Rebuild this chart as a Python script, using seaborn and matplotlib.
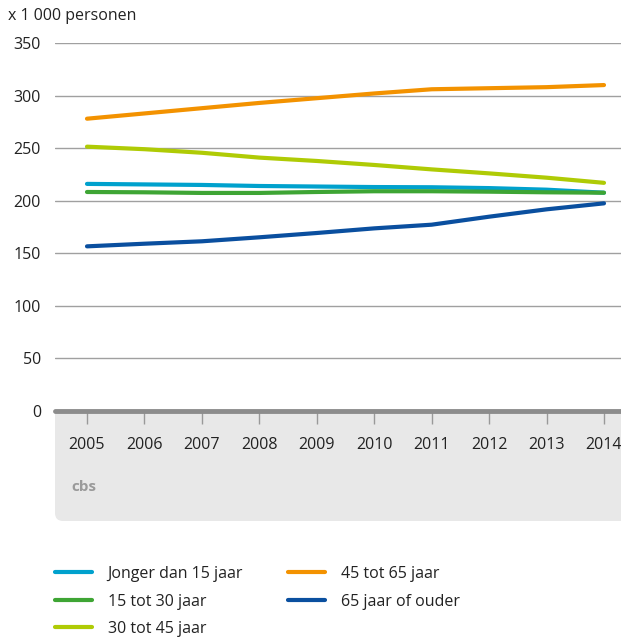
import numpy as np
import pandas as pd
import seaborn as sns
import matplotlib.pyplot as plt
from matplotlib.patches import FancyBboxPatch, Rectangle
from matplotlib.lines import Line2D

# Data (x 1 000 personen)
years = [2005, 2006, 2007, 2008, 2009, 2010, 2011, 2012, 2013, 2014]
jonger_15 = [216, 215.5, 215, 214, 213.5, 213, 212.8, 212, 210.5, 207.6]
tot_30 = [208.3, 208, 207.4, 207.4, 208.3, 209, 209, 208.6, 208, 207.6]
tot_45 = [251.4, 249, 245.6, 241, 237.8, 234, 229.8, 226, 221.9, 217]
tot_65 = [278, 283, 288, 293, 297.5, 302, 306, 307, 308, 310]
ouder_65 = [156.6, 159.1, 161.4, 165.2, 169.3, 173.7, 177.2, 184.8, 191.8, 197.5]

series_names = ['Jonger dan 15 jaar', '15 tot 30 jaar', '30 tot 45 jaar',
                '45 tot 65 jaar', '65 jaar of ouder']
series_values = [jonger_15, tot_30, tot_45, tot_65, ouder_65]
colors = ['#00a1cd', '#3ea534', '#afcb05', '#f39200', '#0a4f9f']
y_ticks = [0, 50, 100, 150, 200, 250, 300, 350]

# long format for seaborn
rows = []
for name, vals in zip(series_names, series_values):
    for yr, v in zip(years, vals):
        rows.append({'Jaar': yr, 'Waarde': v, 'Groep': name})
df = pd.DataFrame(rows)

sns.set_style('white')
plt.rcParams['font.family'] = ['Open Sans', 'DejaVu Sans']
fs = 11.5

W, H = 621, 638
fig = plt.figure(figsize=(W / 100, H / 100), dpi=100)

# background axes for the grey box under the x axis
bg = fig.add_axes([0, 0, 1, 1])
bg.set_xlim(0, W)
bg.set_ylim(H, 0)
bg.axis('off')
bg.add_patch(FancyBboxPatch((55, 411), 600, 110, boxstyle='round,pad=0,rounding_size=8',
                            facecolor='#e8e8e8', edgecolor='none'))
bg.add_patch(Rectangle((55, 411), 40, 40, facecolor='#e8e8e8', edgecolor='none'))

# cbs logo stand-in
bg.text(84, 487, 'cbs', fontsize=11, color='#9a9a9a', ha='center', va='center',
        fontweight='bold')

# plot axes: left 55, right 621, top 43, bottom 411
ax = fig.add_axes([55 / W, 1 - 411 / H, (621 - 55) / W, (411 - 43) / H])
ax.patch.set_alpha(0)
ax.set_zorder(2)

# grid lines
for t in y_ticks[1:]:
    ax.axhline(t, color='#a0a0a0', lw=1, zorder=1)
ax.axhline(0, color='#8c8c8c', lw=3.5, zorder=3, clip_on=False)

sns.lineplot(data=df, x='Jaar', y='Waarde', hue='Groep', hue_order=series_names,
             palette=colors, lw=3, ax=ax, legend=False, zorder=2)

ax.set_xlim(2004.443, 2014.296)
ax.set_ylim(0, 350)
ax.set_xticks(years)
ax.set_xticklabels([str(y) for y in years])
ax.set_yticks(y_ticks)
# seaborn's white style switches bottom ticks off, so turn them back on
ax.tick_params(axis='x', bottom=True, direction='out', length=9, width=1,
               color='#999999', pad=10, labelsize=fs, labelcolor='#222222')
ax.tick_params(axis='y', left=False, length=0, pad=10, labelsize=fs,
               labelcolor='#222222')
ax.set_xlabel('')
ax.set_ylabel('')
for s in ax.spines.values():
    s.set_visible(False)

fig.text(8 / W, 1 - 16 / H, 'x 1 000 personen', fontsize=fs, color='#222222',
         va='center', ha='left')

# legend
handles = [Line2D([0], [0], color=c, lw=3) for c in colors]
leg = fig.legend(handles, series_names, loc='upper left',
                 bbox_to_anchor=(55 / W, 1 - 566 / H), ncol=2, frameon=False,
                 fontsize=fs, handlelength=2.3, handletextpad=1.0,
                 columnspacing=2.8, labelspacing=0.72, borderpad=0,
                 borderaxespad=0)
for t in leg.get_texts():
    t.set_color('#222222')

fig.savefig('out.png', dpi=100)
